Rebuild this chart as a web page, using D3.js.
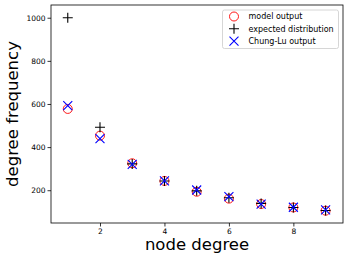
<!DOCTYPE html>
<html>
<head>
<meta charset="utf-8">
<script src="https://cdn.jsdelivr.net/npm/d3@7"></script>
<style>
body { margin: 0; background: #fff; }
text { font-family: "DejaVu Sans", sans-serif; }
</style>
</head>
<body>
<div id="chart_div"></div>
<script>
var degrees = [1, 2, 3, 4, 5, 6, 7, 8, 9];
var model_output = [577, 453, 325, 243, 193, 161, 136, 120, 105];
var expected_dist = [1000, 492, 322, 243, 197, 165, 139, 120, 106];
var chung_lu = [592, 439, 320, 243, 201, 170, 136, 121, 109];
var x_ticks = [2, 4, 6, 8];
var y_ticks = [200, 400, 600, 800, 1000];
var series_names = ["model output", "expected distribution", "Chung-Lu output"];

var chart_width = 349;
var chart_height = 262;
var plot_left = 51, plot_right = 343, plot_top = 5, plot_bottom = 223;

var svg = d3.select("#chart_div").append("svg")
    .attr("width", chart_width)
    .attr("height", chart_height);

var x = d3.scaleLinear().domain([0.48, 9.54]).range([plot_left, plot_right]);
var y = d3.scaleLinear().domain([48, 1059]).range([plot_bottom, plot_top]);

// axes
var xAxis = svg.append("g")
    .attr("transform", "translate(0," + plot_bottom + ")")
    .call(d3.axisBottom(x).tickValues(x_ticks).tickSize(3.5).tickPadding(2).tickFormat(d3.format("d")));
var yAxis = svg.append("g")
    .attr("transform", "translate(" + plot_left + ",0)")
    .call(d3.axisLeft(y).tickValues(y_ticks).tickSize(3.5).tickPadding(2).tickFormat(d3.format("d")));
[xAxis, yAxis].forEach(function(a) {
    a.select(".domain").remove();
    a.selectAll("text").attr("font-family", "DejaVu Sans").attr("font-size", 7.5).attr("fill", "#000");
    a.selectAll("line").attr("stroke", "#000").attr("stroke-width", 0.8);
});

svg.append("rect")
    .attr("x", plot_left).attr("y", plot_top)
    .attr("width", plot_right - plot_left).attr("height", plot_bottom - plot_top)
    .attr("fill", "none").attr("stroke", "#000").attr("stroke-width", 0.8);

// markers
function circleMark(g) {
    g.append("circle").attr("r", 4.5).attr("fill", "none").attr("stroke", "red").attr("stroke-width", 0.9);
}
function plusMark(g) {
    g.append("path").attr("d", "M-5,0H5M0,-5V5").attr("stroke", "#000").attr("stroke-width", 1.1);
}
function xMark(g) {
    g.append("path").attr("d", "M-4.5,-4.5L4.5,4.5M-4.5,4.5L4.5,-4.5").attr("stroke", "blue").attr("stroke-width", 1.1);
}
var marks = [circleMark, plusMark, xMark];
var series = [model_output, expected_dist, chung_lu];

series.forEach(function(vals, s) {
    svg.append("g").selectAll("g")
        .data(degrees)
        .enter().append("g")
        .attr("transform", function(d, i) { return "translate(" + x(d) + "," + y(vals[i]) + ")"; })
        .each(function() { marks[s](d3.select(this)); });
});

// legend
var leg = svg.append("g");
leg.append("rect")
    .attr("x", 222.5).attr("y", 10).attr("width", 116).attr("height", 38.5).attr("rx", 2)
    .attr("fill", "#fff").attr("stroke", "#ccc").attr("stroke-width", 0.8);
series_names.forEach(function(name, i) {
    var yy = 16.5 + i * 12.3;
    var g = leg.append("g").attr("transform", "translate(234," + yy + ")");
    marks[i](g);
    leg.append("text").attr("x", 248.5).attr("y", yy).attr("dy", "0.35em")
        .attr("font-size", 8).attr("fill", "#000").text(name);
});

// labels
svg.append("text")
    .attr("x", (plot_left + plot_right) / 2).attr("y", 250)
    .attr("text-anchor", "middle").attr("font-size", 16.5).attr("fill", "#000")
    .text("node degree");
svg.append("text")
    .attr("transform", "translate(18," + ((plot_top + plot_bottom) / 2) + ") rotate(-90)")
    .attr("text-anchor", "middle").attr("font-size", 16.5).attr("fill", "#000")
    .text("degree frequency");
</script>
</body>
</html>
